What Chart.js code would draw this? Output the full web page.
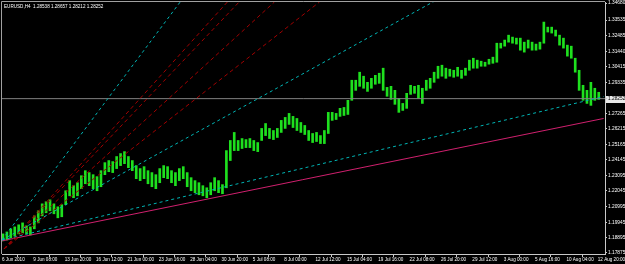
<!DOCTYPE html>
<html>
<head>
<meta charset="utf-8">
<script src="https://cdn.jsdelivr.net/npm/chart.js@4/dist/chart.umd.min.js"></script>
<style>
  html, body { margin: 0; padding: 0; background: #000; }
  #wrap { width: 625px; height: 264px; }
</style>
</head>
<body>
<div id="wrap"><canvas id="chart" width="625" height="264"></canvas></div>
<script>
// Chart header
const symbolText = 'EURUSD,H4  1.28538 1.28657 1.28212 1.28252'

// Bar highs / lows (one bar every 2 H4 periods)
const highs = [
  1.1916, 1.1929, 1.1950, 1.1963, 1.1977, 1.1990, 1.1970, 1.1963, 1.2037, 1.2071,
  1.2118, 1.2132, 1.2145, 1.2118, 1.2098, 1.2112, 1.2206, 1.2274, 1.2240, 1.2260,
  1.2307, 1.2341, 1.2328, 1.2314, 1.2301, 1.2341, 1.2395, 1.2409, 1.2402, 1.2436,
  1.2456, 1.2469, 1.2436, 1.2409, 1.2375, 1.2355, 1.2368, 1.2341, 1.2328, 1.2314,
  1.2355, 1.2375, 1.2368, 1.2341, 1.2328, 1.2355, 1.2368, 1.2328, 1.2294, 1.2274,
  1.2260, 1.2240, 1.2226, 1.2260, 1.2294, 1.2274, 1.2247, 1.2476, 1.2544, 1.2598,
  1.2544, 1.2557, 1.2550, 1.2557, 1.2544, 1.2530, 1.2625, 1.2658, 1.2625, 1.2611,
  1.2625, 1.2679, 1.2699, 1.2726, 1.2706, 1.2692, 1.2665, 1.2645, 1.2611, 1.2591,
  1.2598, 1.2577, 1.2611, 1.2733, 1.2733, 1.2726, 1.2760, 1.2766, 1.2814, 1.2949,
  1.2949, 1.3003, 1.2976, 1.2935, 1.2962, 1.2982, 1.2996, 1.3030, 1.2901, 1.2908,
  1.2881, 1.2827, 1.2793, 1.2861, 1.2915, 1.2908, 1.2915, 1.2895, 1.2949, 1.2962,
  1.3003, 1.3043, 1.3050, 1.3030, 1.3023, 1.3016, 1.3036, 1.3016, 1.3030, 1.3084,
  1.3097, 1.3084, 1.3077, 1.3070, 1.3090, 1.3104, 1.3198, 1.3198, 1.3219, 1.3252,
  1.3239, 1.3232, 1.3232, 1.3205, 1.3219, 1.3205, 1.3192, 1.3205, 1.3340, 1.3306,
  1.3306, 1.3286, 1.3252, 1.3232, 1.3185, 1.3178, 1.3097, 1.3016, 1.2915, 1.2881,
  1.2935, 1.2895, 1.2868
]
const lows = [
  1.1869, 1.1875, 1.1889, 1.1902, 1.1916, 1.1923, 1.1916, 1.1909, 1.1950, 1.1990,
  1.2037, 1.2058, 1.2071, 1.2051, 1.2024, 1.2031, 1.2112, 1.2172, 1.2159, 1.2172,
  1.2220, 1.2253, 1.2240, 1.2220, 1.2206, 1.2233, 1.2314, 1.2334, 1.2328, 1.2355,
  1.2375, 1.2388, 1.2361, 1.2341, 1.2287, 1.2274, 1.2287, 1.2253, 1.2233, 1.2220,
  1.2260, 1.2294, 1.2287, 1.2260, 1.2240, 1.2274, 1.2287, 1.2233, 1.2206, 1.2193,
  1.2179, 1.2172, 1.2159, 1.2179, 1.2206, 1.2193, 1.2186, 1.2226, 1.2409, 1.2476,
  1.2476, 1.2490, 1.2496, 1.2496, 1.2476, 1.2469, 1.2544, 1.2577, 1.2557, 1.2550,
  1.2564, 1.2598, 1.2625, 1.2652, 1.2631, 1.2611, 1.2598, 1.2584, 1.2544, 1.2530,
  1.2537, 1.2523, 1.2523, 1.2591, 1.2679, 1.2685, 1.2706, 1.2712, 1.2719, 1.2814,
  1.2881, 1.2908, 1.2895, 1.2874, 1.2895, 1.2922, 1.2928, 1.2881, 1.2841, 1.2820,
  1.2787, 1.2733, 1.2746, 1.2760, 1.2854, 1.2861, 1.2827, 1.2793, 1.2881, 1.2895,
  1.2935, 1.2962, 1.2976, 1.2962, 1.2976, 1.2969, 1.2976, 1.2962, 1.2982, 1.3016,
  1.3030, 1.3030, 1.3043, 1.3043, 1.3057, 1.3063, 1.3070, 1.3165, 1.3178, 1.3205,
  1.3198, 1.3192, 1.3151, 1.3138, 1.3165, 1.3151, 1.3151, 1.3158, 1.3198, 1.3273,
  1.3266, 1.3246, 1.3185, 1.3165, 1.3111, 1.3097, 1.3003, 1.2881, 1.2814, 1.2793,
  1.2780, 1.2814, 1.2820
]
const barStep = 2

// Time axis labels, one every 16 H4 bars
const timeLabels = [
  '6 Jun 2010', '9 Jun 08:00', '13 Jun 20:00', '16 Jun 12:00', '21 Jun 00:00',
  '23 Jun 16:00', '28 Jun 04:00', '30 Jun 20:00', '5 Jul 08:00', '8 Jul 00:00',
  '12 Jul 12:00', '15 Jul 04:00', '19 Jul 16:00', '22 Jul 08:00', '26 Jul 20:00',
  '29 Jul 12:00', '3 Aug 00:00', '5 Aug 16:00', '10 Aug 04:00', '12 Aug 20:00'
]
const timeTickStep = 16

// Price axis labels
const priceTicks = [
  1.34680, 1.33535, 1.32485, 1.31440, 1.30415, 1.29335, 1.28252, 1.27265, 1.26215,
  1.25165, 1.24145, 1.23095, 1.22045, 1.20995, 1.19945, 1.18895, 1.17875
]
const bidPrice = 1.28252

// Drawn objects: [barIndexFrom, priceFrom, barIndexTo, priceTo]
const cyanFan = [
  [0, 1.1875, 307, 1.2839],
  [0, 1.1875, 307, 1.4109],
  [0, 1.1875, 100, 1.3635]
]
const redFan = [
  [1, 1.18145, 115, 1.3475],
  [1, 1.18145, 121, 1.3475],
  [1, 1.18145, 139, 1.3475],
  [1, 1.18145, 162, 1.3475]
]
const magentaLine = [0, 1.1869, 307, 1.2692]

const FONT = 'Liberation Sans'
const AXIS_COLOR = '#c8c8c8'

function segment(s) {
  return [{ x: s[0], y: s[1] }, { x: s[2], y: s[3] }]
}

const datasets = []
datasets.push({
  type: 'bar',
  data: highs.map((h, i) => ({ x: barStep * i + 0.5, y: [lows[i], h] })),
  backgroundColor: '#1ee01e',
  barThickness: 2,
  grouped: false,
  order: 3
})
cyanFan.forEach(s => datasets.push({
  type: 'line', data: segment(s), borderColor: '#00b4b4', borderWidth: 1,
  borderDash: [3, 3], pointRadius: 0, order: 1
}))
redFan.forEach(s => datasets.push({
  type: 'line', data: segment(s), borderColor: '#a00000', borderWidth: 1,
  borderDash: [4, 3], pointRadius: 0, order: 1
}))
datasets.push({
  type: 'line', data: segment(magentaLine), borderColor: '#d0206e', borderWidth: 1,
  pointRadius: 0, order: 1
})
datasets.push({
  type: 'line', data: [{ x: 0, y: bidPrice }, { x: 308, y: bidPrice }],
  borderColor: '#808080', borderWidth: 1, pointRadius: 0, order: 2
})

const framePlugin = {
  id: 'frame',
  beforeDraw(chart) {
    const { ctx, chartArea: a } = chart
    ctx.save()
    ctx.fillStyle = '#000'
    ctx.fillRect(0, 0, chart.width, chart.height)
    // bid price box on the price axis
    const y = chart.scales.y.getPixelForValue(bidPrice)
    ctx.fillStyle = '#e8e8e8'
    ctx.fillRect(a.right + 1, Math.round(y) - 3, 20, 7)
    ctx.restore()
  },
  afterDraw(chart) {
    const { ctx, chartArea: a } = chart
    ctx.save()
    ctx.strokeStyle = '#a0a0a0'
    ctx.lineWidth = 1
    ctx.beginPath()
    ctx.moveTo(1.5, a.bottom)
    ctx.lineTo(1.5, 1.5)
    ctx.lineTo(a.right, 1.5)
    ctx.stroke()
    ctx.fillStyle = '#fff'
    ctx.font = '4.6px "' + FONT + '"'
    ctx.textBaseline = 'alphabetic'
    ctx.fillText(symbolText, 4, 8)
    ctx.restore()
  }
}

new Chart(document.getElementById('chart'), {
  type: 'bar',
  data: { datasets },
  options: {
    responsive: false,
    devicePixelRatio: 1,
    animation: false,
    events: [],
    layout: { padding: { left: 2, top: 2, right: 0, bottom: 0 } },
    plugins: { legend: { display: false }, tooltip: { enabled: false } },
    scales: {
      x: {
        type: 'linear',
        min: 0,
        max: 307.7,
        offset: false,
        afterBuildTicks: scale => {
          scale.ticks = timeLabels.map((t, i) => ({ value: i * timeTickStep }))
        },
        afterFit: scale => {
          scale.height = 10
          scale.paddingLeft = 0
          scale.paddingRight = 0
        },
        ticks: {
          autoSkip: false,
          maxRotation: 0,
          align: 'start',
          padding: 0,
          color: '#ffffff',
          font: { family: FONT, size: 4.6 },
          callback: (v) => timeLabels[Math.round(v / timeTickStep)]
        },
        grid: { drawOnChartArea: false, drawTicks: true, tickLength: 3, color: AXIS_COLOR },
        border: { display: true, color: AXIS_COLOR }
      },
      y: {
        type: 'linear',
        position: 'right',
        min: 1.17807,
        max: 1.34750,
        afterBuildTicks: scale => {
          scale.ticks = priceTicks.map(v => ({ value: v }))
        },
        afterFit: scale => {
          scale.width = 20
          scale.paddingTop = 0
          scale.paddingBottom = 0
        },
        ticks: {
          autoSkip: false,
          padding: 1,
          color: ctx => (ctx.tick && ctx.tick.value === bidPrice ? '#000000' : '#ffffff'),
          font: { family: FONT, size: 4.8 },
          callback: v => v.toFixed(5)
        },
        grid: { drawOnChartArea: false, drawTicks: true, tickLength: 2, color: AXIS_COLOR },
        border: { display: true, color: AXIS_COLOR }
      }
    }
  },
  plugins: [framePlugin]
})
</script>
</body>
</html>
